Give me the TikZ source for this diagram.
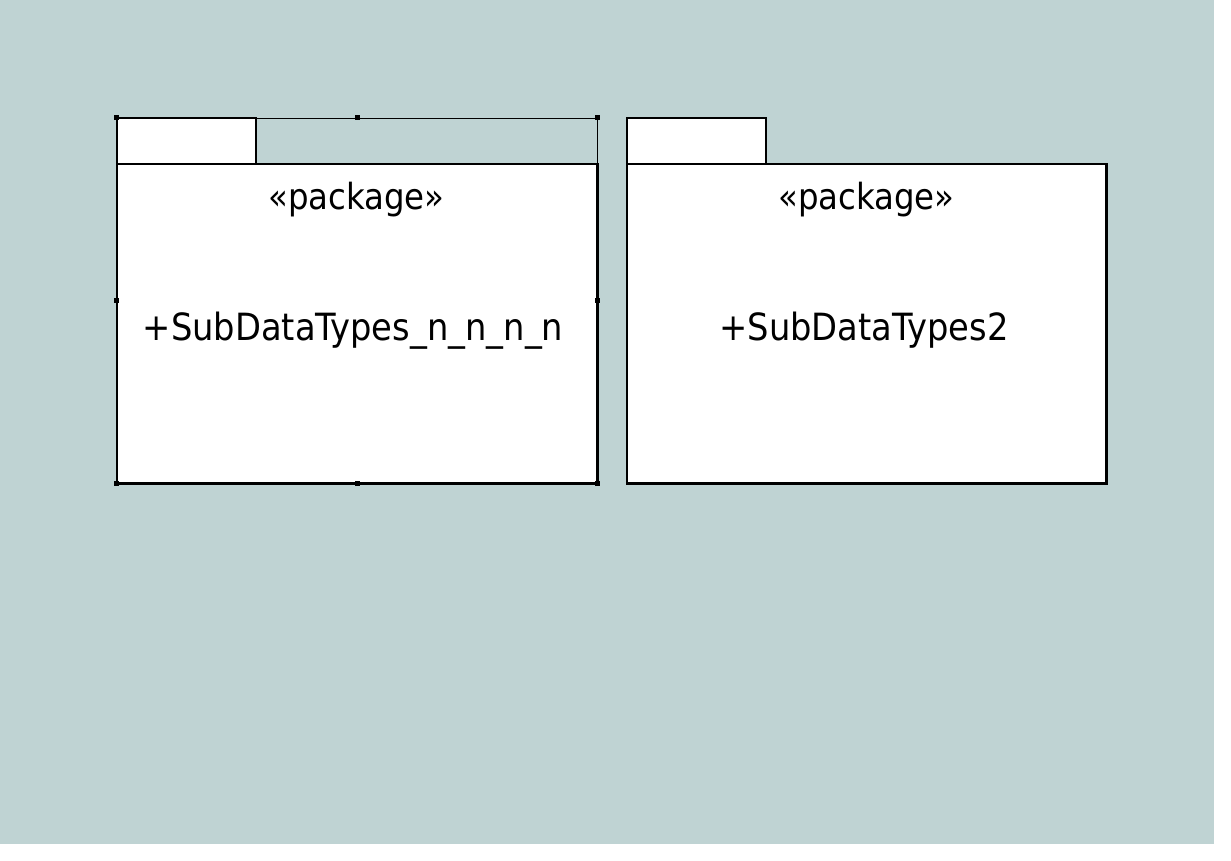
\documentclass[tikz,border=0pt]{standalone}
\usepackage{fontspec}
\setmainfont{DejaVu Sans Condensed}
\usetikzlibrary{positioning}

\definecolor{canvasgray}{RGB}{191,211,211}

\tikzset{
    pkgtab/.style={draw, fill=white, line width=1.4pt, minimum width=139pt, minimum height=46pt},
    pkgbody/.style={draw, fill=white, line width=1.4pt, minimum width=480pt, minimum height=319pt},
    stereotext/.style={font=\fontsize{36}{40}\selectfont, inner sep=0pt, anchor=base},
    pkgtext/.style={font=\fontsize{37.5}{42}\selectfont, inner sep=0pt, anchor=base},
    handle/.style={fill=black, minimum size=5pt, inner sep=0pt}
}

\begin{document}
\begin{tikzpicture}[x=1pt, y=-1pt]
            \useasboundingbox (0, 0) rectangle (1231, 861);
            \fill[canvasgray] (0, 0) rectangle (1214, 844);
            % left package (selected)
            \node[pkgtab] (tabA) at (186.5, 141) {};
            \node[pkgbody] (bodyA) at (357, 323.5) {};
            \draw[line width=2.2pt] (bodyA.north east) -- (bodyA.south east) -- (bodyA.south west);
            \node[stereotext] (stereoA) at (356.5, 210) {«package»};
            \node[pkgtext] (nameA) at (353, 340) {+SubDataTypes\_n\_n\_n\_n};
            % selection frame
            \node[draw, line width=0.6pt, minimum width=480pt, minimum height=365pt] (selA) at (357, 300.5) {};
            \foreach \a in {north west, north, north east, west, east, south west, south, south east}
                \node[handle] at (selA.\a) {};
            % right package
            \node[pkgtab] (tabB) at (696.5, 141) {};
            \node[pkgbody, minimum width=479pt] (bodyB) at (866.5, 323.5) {};
            \draw[line width=2.2pt] (bodyB.north east) -- (bodyB.south east) -- (bodyB.south west);
            \node[stereotext] (stereoB) at (866.5, 210) {«package»};
            \node[pkgtext] (nameB) at (864, 340) {+SubDataTypes2};
        \end{tikzpicture}
\end{document}
